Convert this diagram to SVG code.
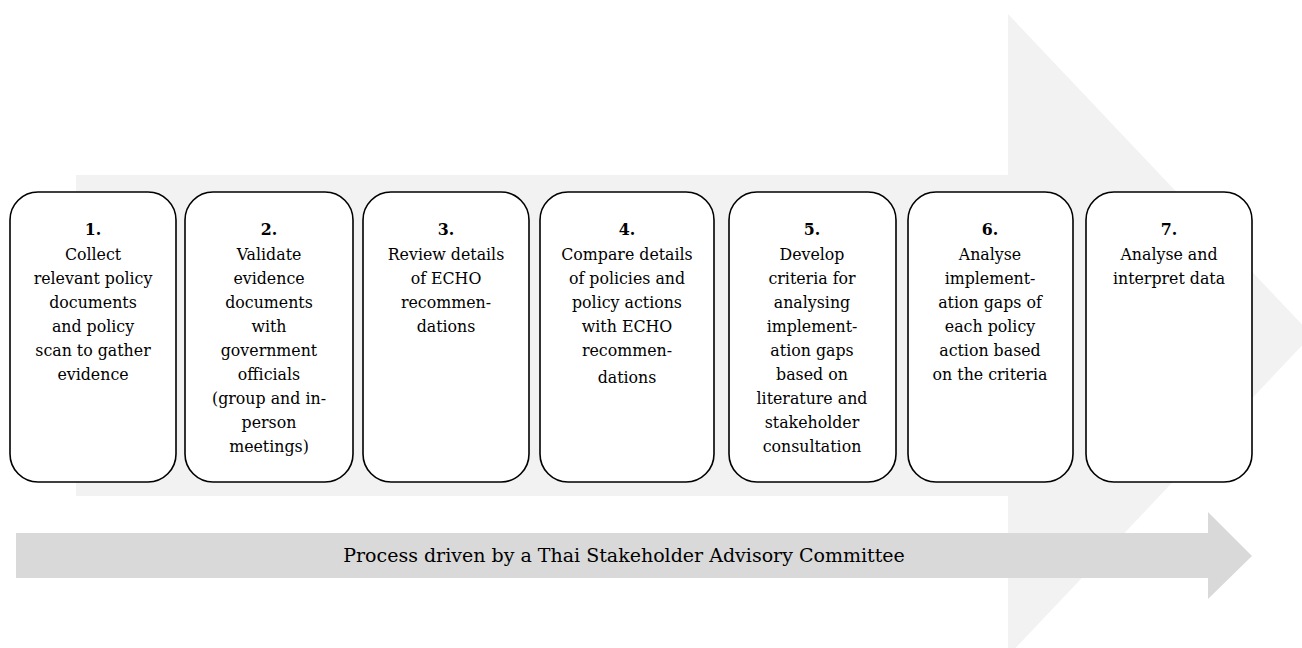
<svg xmlns="http://www.w3.org/2000/svg" width="1302" height="648" viewBox="0 0 1302 648">
<style>
.box{fill:#ffffff;stroke:#000000;stroke-width:1.6}
.t{font-family:"DejaVu Serif","Liberation Serif",serif;font-size:15.8px;fill:#000000;text-anchor:middle}
.n{font-weight:bold}
.b{font-family:"DejaVu Serif","Liberation Serif",serif;font-size:19px;fill:#000000;text-anchor:middle}
</style>
<rect x="0" y="0" width="1302" height="648" fill="#ffffff"/>
<g id="connectors">
<polygon id="main-arrow" points="76,175 1008,175 1008,14 1312,335 1008,656 1008,496 76,496" fill="#f2f2f2"/>
<polygon id="committee-arrow" points="16,533 1208,533 1208,512 1252,556 1208,599 1208,578 16,578" fill="#d9d9d9"/>
</g>
<g id="committee-label">
<text class="b" x="624" y="562">Process driven by a Thai Stakeholder Advisory Committee</text>
</g>
<g id="step1">
<rect class="box" x="10" y="192" width="166" height="290" rx="28" ry="28"/>
<text class="t" x="93"><tspan class="n" x="93" y="235">1.</tspan><tspan x="93" y="260">Collect</tspan><tspan x="93" y="284">relevant policy</tspan><tspan x="93" y="308">documents</tspan><tspan x="93" y="332">and policy</tspan><tspan x="93" y="356">scan to gather</tspan><tspan x="93" y="380">evidence</tspan></text>
</g>
<g id="step2">
<rect class="box" x="185" y="192" width="168" height="290" rx="28" ry="28"/>
<text class="t" x="269"><tspan class="n" x="269" y="235">2.</tspan><tspan x="269" y="260">Validate</tspan><tspan x="269" y="284">evidence</tspan><tspan x="269" y="308">documents</tspan><tspan x="269" y="332">with</tspan><tspan x="269" y="356">government</tspan><tspan x="269" y="380">officials</tspan><tspan x="269" y="404">(group and in-</tspan><tspan x="269" y="428">person</tspan><tspan x="269" y="452">meetings)</tspan></text>
</g>
<g id="step3">
<rect class="box" x="363" y="192" width="166" height="290" rx="28" ry="28"/>
<text class="t" x="446"><tspan class="n" x="446" y="235">3.</tspan><tspan x="446" y="260">Review details</tspan><tspan x="446" y="284">of ECHO</tspan><tspan x="446" y="308">recommen-</tspan><tspan x="446" y="332">dations</tspan></text>
</g>
<g id="step4">
<rect class="box" x="540" y="192" width="174" height="290" rx="28" ry="28"/>
<text class="t" x="627"><tspan class="n" x="627" y="235">4.</tspan><tspan x="627" y="260">Compare details</tspan><tspan x="627" y="284">of policies and</tspan><tspan x="627" y="308">policy actions</tspan><tspan x="627" y="332">with ECHO</tspan><tspan x="627" y="356">recommen-</tspan><tspan x="627" y="383">dations</tspan></text>
</g>
<g id="step5">
<rect class="box" x="729" y="192" width="167" height="290" rx="28" ry="28"/>
<text class="t" x="812"><tspan class="n" x="812" y="235">5.</tspan><tspan x="812" y="260">Develop</tspan><tspan x="812" y="284">criteria for</tspan><tspan x="812" y="308">analysing</tspan><tspan x="812" y="332">implement-</tspan><tspan x="812" y="356">ation gaps</tspan><tspan x="812" y="380">based on</tspan><tspan x="812" y="404">literature and</tspan><tspan x="812" y="428">stakeholder</tspan><tspan x="812" y="452">consultation</tspan></text>
</g>
<g id="step6">
<rect class="box" x="908" y="192" width="165" height="290" rx="28" ry="28"/>
<text class="t" x="990"><tspan class="n" x="990" y="235">6.</tspan><tspan x="990" y="260">Analyse</tspan><tspan x="990" y="284">implement-</tspan><tspan x="990" y="308">ation gaps of</tspan><tspan x="990" y="332">each policy</tspan><tspan x="990" y="356">action based</tspan><tspan x="990" y="380">on the criteria</tspan></text>
</g>
<g id="step7">
<rect class="box" x="1086" y="192" width="166" height="290" rx="28" ry="28"/>
<text class="t" x="1169"><tspan class="n" x="1169" y="235">7.</tspan><tspan x="1169" y="260">Analyse and</tspan><tspan x="1169" y="284">interpret data</tspan></text>
</g>
</svg>
